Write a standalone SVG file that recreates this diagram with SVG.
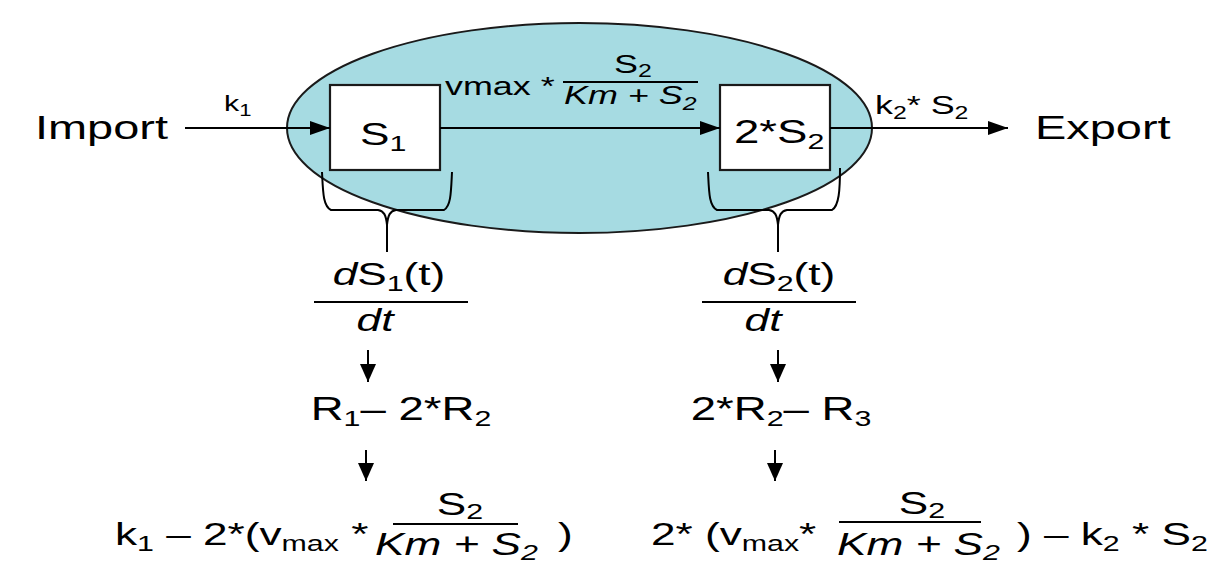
<svg xmlns="http://www.w3.org/2000/svg" width="1220" height="564" viewBox="0 0 1220 564">
<style>
.t{font-family:"Liberation Sans",Arial,sans-serif;fill:#000}
.i{font-style:italic}
.ln{stroke:#000;stroke-width:2;fill:none}
.box{fill:#fff;stroke:#1a1a1a;stroke-width:2.2}
</style>
<defs>
<marker id="ah" viewBox="0 0 20 14" refX="20" refY="7" markerWidth="20" markerHeight="14" markerUnits="userSpaceOnUse" orient="auto">
<path d="M0,0 L20,7 L0,14 z" fill="#000"/>
</marker>
<marker id="ad" viewBox="0 0 18 16" refX="18" refY="8" markerWidth="18" markerHeight="16" markerUnits="userSpaceOnUse" orient="auto">
<path d="M0,0 L18,8 L0,16 z" fill="#000"/>
</marker>
</defs>
<rect width="1220" height="564" fill="#fff"/>
<g id="cell">
<ellipse cx="579.5" cy="128" rx="292.5" ry="105" fill="#a6dbe2" stroke="#1a1a1a" stroke-width="2"/>
</g>
<g id="node-S1">
<rect class="box" x="330" y="85" width="110" height="85"/>
<text class="t" font-size="32" transform="translate(360,145) scale(1.38,1)">S<tspan font-size="22" dy="6">1</tspan></text>
</g>
<g id="node-S2">
<rect class="box" x="720" y="85" width="110" height="85"/>
<text class="t" font-size="33" transform="translate(734,143) scale(1.38,1)">2*S<tspan font-size="22" dy="6">2</tspan></text>
</g>
<g id="node-import">
<text class="t" font-size="34" transform="translate(35,139) scale(1.38,1)">Import</text>
</g>
<g id="node-export">
<text class="t" font-size="34" transform="translate(1035,139) scale(1.38,1)">Export</text>
</g>
<g id="connectors">
<line class="ln" x1="185" y1="128" x2="330" y2="128" marker-end="url(#ah)"/>
<line class="ln" x1="440" y1="128" x2="720" y2="128" marker-end="url(#ah)"/>
<line class="ln" x1="830" y1="128" x2="1008" y2="128" marker-end="url(#ah)"/>
<path class="ln" d="M322,172 C323,192 323,206 331,210 L378,210 C384,211 386,215 387,225 L387,252 M387,225 C388,215 390,211 396,210 L444,210 C451,206 451,192 452,172"/>
<path class="ln" d="M708,172 C709,192 709,206 717,210 L769,210 C775,211 777,215 778,225 L778,252 M778,225 C779,215 781,211 787,210 L832,210 C839,206 840,190 840,168"/>
<line class="ln" x1="368" y1="350" x2="368" y2="382" marker-end="url(#ad)"/>
<line class="ln" x1="778" y1="350" x2="778" y2="382" marker-end="url(#ad)"/>
<line class="ln" x1="366" y1="450" x2="366" y2="481" marker-end="url(#ad)"/>
<line class="ln" x1="775" y1="450" x2="775" y2="481" marker-end="url(#ad)"/>
<g id="label-k1">
<text class="t" font-size="22" transform="translate(224,111) scale(1.38,1)">k<tspan font-size="16" dy="5">1</tspan></text>
</g>
<g id="label-rate">
<text class="t" font-size="26" transform="translate(445,95) scale(1.38,1)">vmax *</text>
<text class="t" font-size="26" text-anchor="middle" transform="translate(633,73) scale(1.38,1)">S<tspan font-size="18" dy="4">2</tspan></text>
<line class="ln" x1="563" y1="82" x2="698" y2="82"/>
<text class="t i" font-size="26" transform="translate(564,104) scale(1.38,1)">Km + S<tspan font-size="18" dy="6">2</tspan></text>
</g>
<g id="label-k2">
<text class="t" font-size="26" transform="translate(875,114) scale(1.38,1)">k<tspan font-size="18" dy="5">2</tspan><tspan dy="-5">* S</tspan><tspan font-size="18" dy="5">2</tspan></text>
</g>
</g>
<g id="node-dS1">
<text class="t" font-size="32" text-anchor="middle" transform="translate(389,285) scale(1.38,1)"><tspan class="i">d</tspan>S<tspan font-size="22" dy="6">1</tspan><tspan dy="-6">(t)</tspan></text>
<line class="ln" x1="314" y1="302" x2="468" y2="302"/>
<text class="t i" font-size="32" text-anchor="middle" transform="translate(375,331) scale(1.38,1)">dt</text>
</g>
<g id="node-dS2">
<text class="t" font-size="32" text-anchor="middle" transform="translate(779,285) scale(1.38,1)"><tspan class="i">d</tspan>S<tspan font-size="22" dy="6">2</tspan><tspan dy="-6">(t)</tspan></text>
<line class="ln" x1="702" y1="302" x2="856" y2="302"/>
<text class="t i" font-size="32" text-anchor="middle" transform="translate(763,331) scale(1.38,1)">dt</text>
</g>
<g id="node-R1">
<text class="t" font-size="33" text-anchor="middle" transform="translate(401,420) scale(1.38,1)">R<tspan font-size="22" dy="6">1</tspan><tspan dy="-6">– 2*R</tspan><tspan font-size="22" dy="6">2</tspan></text>
</g>
<g id="node-R2">
<text class="t" font-size="33" text-anchor="middle" transform="translate(781,420) scale(1.38,1)">2*R<tspan font-size="22" dy="6">2</tspan><tspan dy="-6">– R</tspan><tspan font-size="22" dy="6">3</tspan></text>
</g>
<g id="node-F1">
<text class="t" font-size="32" transform="translate(115,545) scale(1.38,1)">k<tspan font-size="22" dy="6">1</tspan><tspan dy="-6"> – 2*(v</tspan><tspan font-size="22" dy="6">max</tspan><tspan dy="-6"> *</tspan></text>
<text class="t" font-size="32" text-anchor="middle" transform="translate(460,515) scale(1.38,1)">S<tspan font-size="22" dy="4">2</tspan></text>
<line class="ln" x1="393" y1="524" x2="518" y2="524"/>
<text class="t i" font-size="32" transform="translate(375,555) scale(1.38,1)">Km + S<tspan font-size="22" dy="5">2</tspan></text>
<text class="t" font-size="32" transform="translate(558,545) scale(1.38,1)">)</text>
</g>
<g id="node-F2">
<text class="t" font-size="32" text-anchor="middle" transform="translate(922,514) scale(1.38,1)">S<tspan font-size="22" dy="4">2</tspan></text>
<text class="t" font-size="32" transform="translate(651,545) scale(1.38,1)">2* (v<tspan font-size="22" dy="6">max</tspan><tspan dy="-6">*</tspan></text>
<line class="ln" x1="839" y1="522" x2="981" y2="522"/>
<text class="t i" font-size="32" transform="translate(837,555) scale(1.38,1)">Km + S<tspan font-size="22" dy="5">2</tspan></text>
<text class="t" font-size="32" transform="translate(1017,545) scale(1.38,1)">) – k<tspan font-size="22" dy="6">2</tspan><tspan dy="-6"> * S</tspan><tspan font-size="22" dy="6">2</tspan></text>
</g>
</svg>
